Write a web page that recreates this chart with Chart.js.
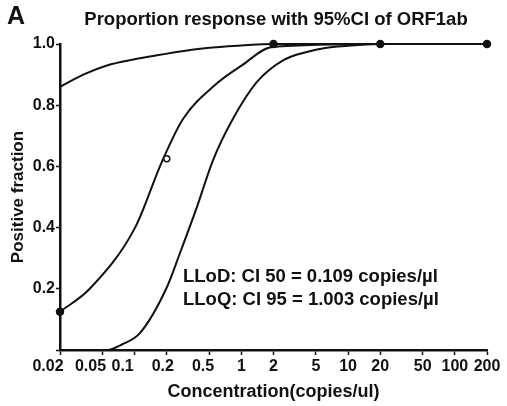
<!DOCTYPE html>
<html>
<head>
<meta charset="utf-8">
<script src="https://cdn.jsdelivr.net/npm/chart.js@4.4.1/dist/chart.umd.min.js"></script>
<style>
html, body { margin: 0; padding: 0; background: #fff; }
#wrap { width: 507px; height: 406px; position: relative; }
</style>
</head>
<body>
<div id="wrap"><canvas id="myChart"></canvas></div>
<script>
// 軸の目盛り
var xTicks = [0.02, 0.05, 0.1, 0.2, 0.5, 1, 2, 5, 10, 20, 50, 100, 200];
var xTickLabels = ['0.02\u2002\u2002\u2002', '0.05\u2002\u2002\u2002', '0.1\u2002\u2002\u2002', '0.2\u2002', '0.5\u2002 ', '1', '2', '5', '10', '20', '50', '100', '200'];
var yTicks = [0, 0.2, 0.4, 0.6, 0.8, 1.0];
var yTickLabels = ['', '0.2', '0.4', '0.6', '0.8', '1.0'];

// 観測値 (陽性率)
var obsConc = [0.02, 0.2, 2, 20, 200];
var obsFraction = [0.125, 0.625, 1, 1, 1];
var obsFilled = [true, false, true, true, true];

// 当てはめ曲線
var fitConc = [0.02, 0.038, 0.101, 0.18, 0.284, 0.566, 1.01, 1.94, 20, 200];
var fitFraction = [0.125, 0.2, 0.4, 0.615, 0.755, 0.866, 0.93, 0.99, 1, 1];

// 95%CI 上側
var upperConc = [0.02, 0.033, 0.055, 0.1, 0.162, 0.3, 0.476, 1.0, 2, 20, 200];
var upperFraction = [0.86, 0.90, 0.93, 0.95, 0.963, 0.978, 0.987, 0.995, 1.0, 1.0, 1.0];

// 95%CI 下側
var lowerConc = [0.02, 0.055, 0.076, 0.112, 0.201, 0.266, 0.384, 0.542, 0.817, 1.4, 2.5, 4.1, 6.1, 12.6, 20, 200];
var lowerFraction = [0, 0, 0.018, 0.055, 0.206, 0.317, 0.468, 0.62, 0.75, 0.876, 0.948, 0.974, 0.987, 0.997, 1, 1];

var FONT = "'Liberation Sans', Arial, sans-serif";
var INK = '#111';

function toPoints(xs, ys) {
    return xs.map(function(x, i) { return { x: x, y: ys[i] }; });
}

function curve(xs, ys) {
    return {
        type: 'line',
        data: toPoints(xs, ys),
        borderColor: INK,
        borderWidth: 2,
        pointRadius: 0,
        fill: false,
        cubicInterpolationMode: 'monotone',
        clip: false
    };
}

// タイトルと注記
var textPlugin = {
    id: 'texts',
    afterDraw: function(chart) {
        var ctx = chart.ctx;
        ctx.save();
        ctx.fillStyle = INK;
        ctx.textBaseline = 'middle';
        ctx.font = 'bold 25px ' + FONT;
        ctx.textAlign = 'left';
        ctx.fillText('A', 7, 17);
        ctx.font = 'bold 18.5px ' + FONT;
        ctx.textAlign = 'center';
        ctx.fillText('Proportion response with 95%CI of ORF1ab', 276, 20);
        ctx.textAlign = 'left';
        ctx.fillText('LLoD: CI 50 = 0.109 copies/\u00b5l', 183, 277);
        ctx.fillText('LLoQ: CI 95 = 1.003 copies/\u00b5l', 183, 300);
        ctx.restore();
    }
};

var ctx = document.getElementById('myChart').getContext('2d');
var myChart = new Chart(ctx, {
    data: {
        datasets: [
            {
                type: 'scatter',
                data: toPoints(obsConc, obsFraction),
                pointRadius: obsFilled.map(function(f) { return f ? 3.5 : 3; }),
                pointBackgroundColor: obsFilled.map(function(f) { return f ? INK : '#fff'; }),
                pointBorderColor: INK,
                pointBorderWidth: 1.5,
                clip: false
            },
            curve(upperConc, upperFraction),
            curve(fitConc, fitFraction),
            curve(lowerConc, lowerFraction)
        ]
    },
    options: {
        responsive: true,
        maintainAspectRatio: false,
        animation: false,
        devicePixelRatio: 1,
        layout: { padding: { top: 44, right: 20, left: 0, bottom: 0 } },
        plugins: { legend: { display: false }, tooltip: { enabled: false } },
        scales: {
            x: {
                type: 'logarithmic',
                min: 0.02,
                max: 200,
                afterBuildTicks: function(scale) {
                    scale.ticks = xTicks.map(function(v) { return { value: v }; });
                },
                afterFit: function(scale) { scale.height = 56; },
                ticks: {
                    autoSkip: false,
                    maxRotation: 0,
                    padding: 2,
                    color: INK,
                    font: { family: FONT, size: 16, weight: 'bold' },
                    callback: function(value, index) { return xTickLabels[index]; }
                },
                grid: { drawOnChartArea: false, tickLength: 5, tickColor: INK, tickWidth: 1.5 },
                border: { color: INK, width: 2.5 },
                title: {
                    display: true,
                    text: 'Concentration(copies/ul)',
                    color: INK,
                    font: { family: FONT, size: 18, weight: 'bold' },
                    padding: { top: 0, bottom: 3 }
                }
            },
            y: {
                type: 'linear',
                min: 0,
                max: 1,
                afterBuildTicks: function(scale) {
                    scale.ticks = yTicks.map(function(v) { return { value: v }; });
                },
                afterFit: function(scale) { scale.width = 60; },
                ticks: {
                    padding: 1,
                    color: INK,
                    font: { family: FONT, size: 16, weight: 'bold' },
                    callback: function(value, index) { return yTickLabels[index]; }
                },
                grid: { drawOnChartArea: false, tickLength: 4, tickColor: INK, tickWidth: 1.5 },
                border: { color: INK, width: 2.5 },
                title: {
                    display: true,
                    text: 'Positive fraction',
                    color: INK,
                    font: { family: FONT, size: 17, weight: 'bold' },
                    padding: { top: 8, bottom: 0 }
                }
            }
        }
    },
    plugins: [textPlugin]
});
</script>
</body>
</html>
